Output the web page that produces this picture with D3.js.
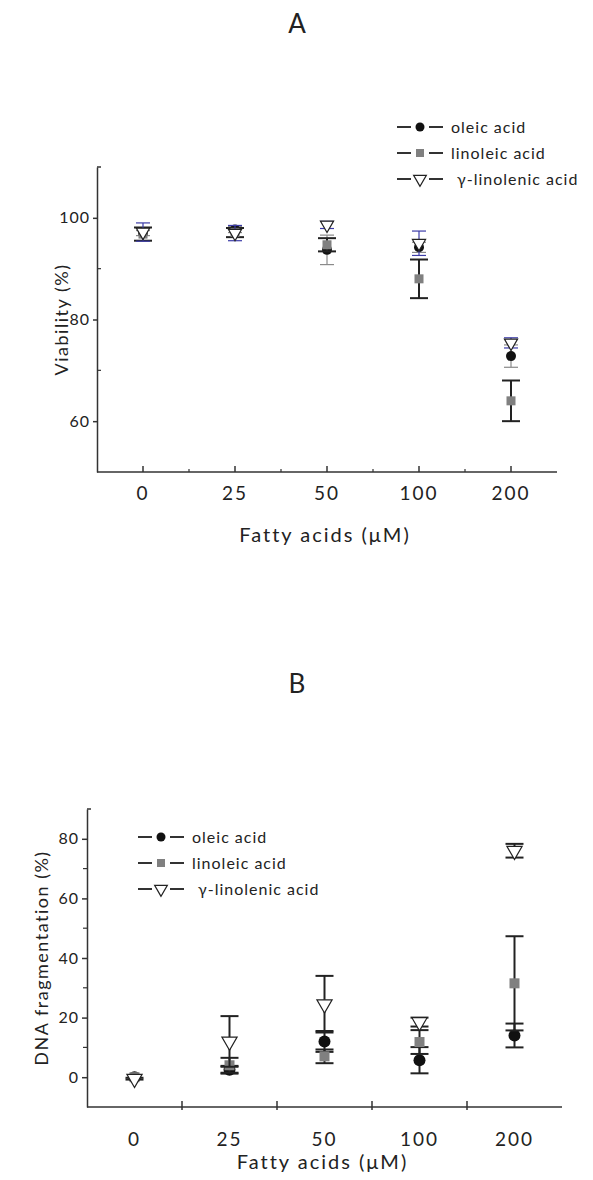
<!DOCTYPE html>
<html>
<head>
<meta charset="utf-8">
<script src="https://cdn.jsdelivr.net/npm/d3@7"></script>
<style>
  body { margin: 0; background: #fff; }
  text { font-family: Lato, "Open Sans", sans-serif; fill: #222; }
</style>
</head>
<body>
<div id="chart"></div>
<script>
// categories (µM)
const doses = ['0', '25', '50', '100', '200']
const seriesNames = ['oleic acid', 'linoleic acid', 'γ-linolenic acid']

// panel A: viability (%), mean and error
const viaOleic = [97.0, 97.7, 93.7, 94.2, 72.8]
const viaOleicErr = [0.5, 0.6, 2.9, 1.0, 2.2]
const viaLinoleic = [96.8, 97.1, 94.7, 88.0, 64.0]
const viaLinoleicErr = [1.3, 0.9, 1.3, 3.8, 4.0]
const viaGamma = [97.2, 97.0, 98.6, 95.0, 75.4]
const viaGammaErr = [1.8, 1.5, 0.7, 2.4, 1.0]

// panel B: DNA fragmentation (%), mean and error
const fragOleic = [0, 2.5, 12.0, 5.7, 14.0]
const fragOleicErr = [0, 1.3, 3.5, 4.4, 4.0]
const fragLinoleic = [0, 4.0, 7.0, 11.8, 31.5]
const fragLinoleicErr = [0, 2.5, 2.3, 4.0, 15.8]
const fragGamma = [-0.5, 12.0, 24.5, 18.5, 76.0]
const fragGammaErr = [0.3, 8.5, 9.5, 1.5, 2.3]

const yTicksA = [60, 80, 100]
const yMinorA = [70, 90]
const yTicksB = [0, 20, 40, 60, 80]
const yMinorB = [10, 30, 50, 70]

const W = 593, H = 1180

const svg = d3.select('#chart').append('svg')
  .attr('width', W)
  .attr('height', H)

function rows(vals, errs, series) {
  return vals.map((v, i) => ({ dose: doses[i], value: v, err: errs[i], series: series }))
}

const triangleDown = d3.symbol().type(d3.symbolTriangle)

function drawMarker(g, series, size, color) {
  if (series === 0) {
    g.append('circle').attr('r', size.r).attr('fill', '#111')
  } else if (series === 1) {
    g.append('rect')
      .attr('x', -size.sq / 2).attr('y', -size.sq / 2)
      .attr('width', size.sq).attr('height', size.sq)
      .attr('fill', '#808080')
  } else {
    g.append('path')
      .attr('d', triangleDown.size(size.tri)())
      .attr('transform', 'rotate(180)')
      .attr('fill', '#fff')
      .attr('stroke', '#222')
      .attr('stroke-width', 1.2)
  }
}

function panel(opts) {
  const x = d3.scaleBand().domain(doses).range(opts.xRange)
  const y = d3.scaleLinear().domain(opts.yDomain).range(opts.yRange)
  const g = svg.append('g')

  // y axis
  g.append('g')
    .attr('transform', `translate(${opts.xRange[0]},0)`)
    .call(d3.axisLeft(y).tickValues(opts.yTicks).tickSize(opts.yTickSize).tickSizeOuter(0).tickPadding(3))
    .call(a => a.selectAll('text').attr('font-size', 16).attr('letter-spacing', 1).style('font-family', 'Lato'))
    .call(a => a.selectAll('line, path').attr('stroke', '#333').attr('stroke-width', 1.5))

  g.selectAll('.yminor')
    .data(opts.yMinor)
    .join('line')
    .attr('x1', opts.xRange[0]).attr('x2', opts.xRange[0] + opts.yMinorDir * 4)
    .attr('y1', d => y(d)).attr('y2', d => y(d))
    .attr('stroke', '#333').attr('stroke-width', 1.2)

  // small cap at top of y axis
  g.append('line')
    .attr('x1', opts.xRange[0]).attr('x2', opts.xRange[0] + 4)
    .attr('y1', y(opts.yDomain[1])).attr('y2', y(opts.yDomain[1]))
    .attr('stroke', '#333').attr('stroke-width', 1.5)

  // x axis
  const xAxisY = y(opts.yDomain[0])
  g.append('line')
    .attr('x1', opts.xRange[0]).attr('x2', opts.xRange[1])
    .attr('y1', xAxisY).attr('y2', xAxisY)
    .attr('stroke', '#333').attr('stroke-width', 1.5)

  const bounds = doses.slice(1).map(d => x(d))
  const centers = doses.map(d => x(d) + x.bandwidth() / 2)
  const major = opts.ticksAtCenters ? centers : bounds
  const minor = opts.ticksAtCenters ? bounds : []

  g.selectAll('.xmajor').data(major).join('line')
    .attr('x1', d => d).attr('x2', d => d)
    .attr('y1', xAxisY - 6).attr('y2', xAxisY + (opts.ticksAtCenters ? 0 : 3))
    .attr('stroke', '#333').attr('stroke-width', 1.5)
  g.selectAll('.xminor').data(minor).join('line')
    .attr('x1', d => d).attr('x2', d => d)
    .attr('y1', xAxisY - 3).attr('y2', xAxisY)
    .attr('stroke', '#333').attr('stroke-width', 1.2)

  g.selectAll('.xlabel').data(doses).join('text')
    .attr('x', d => x(d) + x.bandwidth() / 2)
    .attr('y', xAxisY + opts.xLabelOffset)
    .attr('text-anchor', 'middle')
    .attr('font-size', 19)
    .attr('letter-spacing', 2)
    .text(d => d)

  // axis titles
  g.append('text')
    .attr('x', (opts.xRange[0] + opts.xRange[1]) / 2 - 2)
    .attr('y', xAxisY + opts.xTitleOffset)
    .attr('text-anchor', 'middle')
    .attr('font-size', 20)
    .attr('letter-spacing', 2)
    .text('Fatty acids (μM)')

  g.append('text')
    .attr('transform', `translate(${opts.yTitleX},${(opts.yRange[0] + opts.yRange[1]) / 2 + opts.yTitleShift}) rotate(-90)`)
    .attr('text-anchor', 'middle')
    .attr('font-size', 18)
    .attr('letter-spacing', 1.5)
    .text(opts.yTitle)

  g.append('text')
    .attr('x', 297).attr('y', opts.titleY)
    .attr('text-anchor', 'middle')
    .attr('font-size', 26)
    .text(opts.title)

  // error bars + markers
  opts.data.forEach((series, si) => {
    const eb = opts.errStyle[si]
    const pts = g.append('g')
    const bar = pts.selectAll('.eb').data(series).join('g')
      .attr('transform', d => `translate(${x(d.dose) + x.bandwidth() / 2},0)`)
    bar.filter(d => d.err > 0).append('line')
      .attr('y1', d => y(d.value - d.err)).attr('y2', d => y(d.value + d.err))
      .attr('stroke', eb.color).attr('stroke-width', eb.width)
    bar.filter(d => d.err > 0).selectAll('.cap')
      .data(d => [d.value - d.err, d.value + d.err])
      .join('line')
      .attr('x1', -eb.cap).attr('x2', eb.cap)
      .attr('y1', v => y(v)).attr('y2', v => y(v))
      .attr('stroke', eb.color).attr('stroke-width', eb.width)

    pts.selectAll('.mk').data(series).join('g')
      .attr('transform', d => `translate(${x(d.dose) + x.bandwidth() / 2},${y(d.value)})`)
      .each(function () { drawMarker(d3.select(this), si, opts.markerSize) })
  })

  // legend
  const legend = g.append('g')
    .attr('transform', `translate(${opts.legendX},${opts.legendY})`)
  seriesNames.forEach((name, i) => {
    const row = legend.append('g').attr('transform', `translate(0,${i * opts.legendStep})`)
    row.append('line').attr('x1', 0).attr('x2', 14).attr('stroke', '#333').attr('stroke-width', 2)
    row.append('line').attr('x1', 32).attr('x2', 46).attr('stroke', '#333').attr('stroke-width', 2)
    const m = row.append('g').attr('transform', 'translate(23,0)')
    drawMarker(m, i, { r: 4.5, sq: 8, tri: 70 })
    row.append('text')
      .attr('x', i === 2 ? 60 : 54)
      .attr('dy', '0.35em')
      .attr('font-size', 16)
      .attr('letter-spacing', 1)
      .text(name)
  })
}

panel({
  title: 'A', titleY: 33,
  xRange: [97, 557], yDomain: [50, 110], yRange: [472, 167],
  yTicks: yTicksA, yMinor: yMinorA, yTickSize: 4, yMinorDir: 1,
  ticksAtCenters: true, xLabelOffset: 28, xTitleOffset: 70,
  yTitle: 'Viability (%)', yTitleX: 68, yTitleShift: 0,
  data: [rows(viaOleic, viaOleicErr, 0), rows(viaLinoleic, viaLinoleicErr, 1), rows(viaGamma, viaGammaErr, 2)],
  errStyle: [
    { color: '#8a8a8a', width: 1.2, cap: 7 },
    { color: '#222', width: 2, cap: 9 },
    { color: '#3c3ca8', width: 1.2, cap: 7 }
  ],
  markerSize: { r: 5, sq: 9, tri: 75 },
  legendX: 397, legendY: 127, legendStep: 26
})

panel({
  title: 'B', titleY: 693,
  xRange: [87, 562], yDomain: [-10, 90], yRange: [1107, 809],
  yTicks: yTicksB, yMinor: yMinorB, yTickSize: 5, yMinorDir: -1,
  ticksAtCenters: false, xLabelOffset: 39, xTitleOffset: 62,
  yTitle: 'DNA fragmentation (%)', yTitleX: 48, yTitleShift: 0,
  data: [rows(fragOleic, fragOleicErr, 0), rows(fragLinoleic, fragLinoleicErr, 1), rows(fragGamma, fragGammaErr, 2)],
  errStyle: [
    { color: '#222', width: 2, cap: 9 },
    { color: '#222', width: 2, cap: 9 },
    { color: '#222', width: 2, cap: 9 }
  ],
  markerSize: { r: 6, sq: 10, tri: 100 },
  legendX: 138, legendY: 837, legendStep: 26
})
</script>
</body>
</html>
